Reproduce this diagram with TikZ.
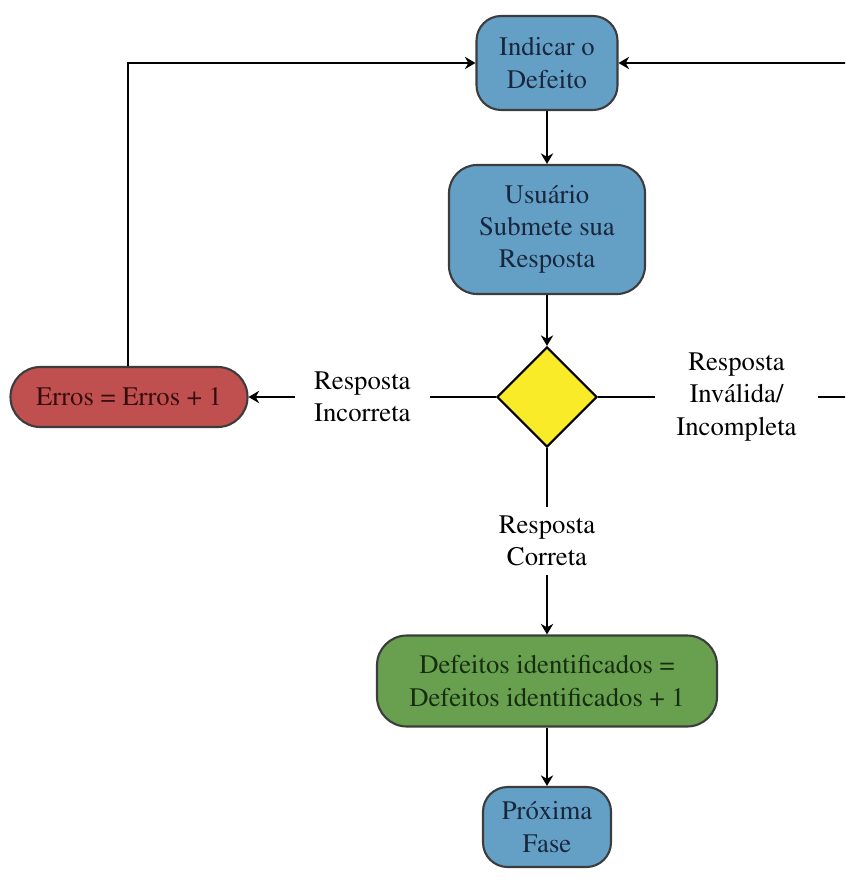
\documentclass[tikz,border=0pt]{standalone}
\usepackage[T1]{fontenc}
\usepackage{mathptmx}
\usetikzlibrary{arrows.meta,shapes.geometric}
\definecolor{boxblue}{RGB}{100,160,198}
\definecolor{boxred}{RGB}{192,80,80}
\definecolor{boxgreen}{RGB}{104,160,80}
\definecolor{boxyellow}{RGB}{250,235,40}
\definecolor{edgegray}{RGB}{60,60,60}
\definecolor{navytext}{RGB}{25,38,60}
\definecolor{redtext}{RGB}{55,12,12}
\definecolor{greentext}{RGB}{22,45,15}
\tikzset{
  x=0.02cm, y=-0.02cm,
  txt/.style={font=\fontsize{15.2}{18.4}\selectfont, align=center},
  procbox/.style={txt, draw=edgegray, line width=1.2pt, rectangle, inner sep=0pt},
  bluebox/.style={procbox, fill=boxblue, text=navytext},
  decision/.style={diamond, draw=black, line width=1.2pt, fill=boxyellow, inner sep=0pt,
                   minimum width=100*0.02cm, minimum height=100*0.02cm},
  conn/.style={line width=1.45pt, black},
  arr/.style={conn, -{Stealth[length=6pt,width=7pt]}},
  lbl/.style={txt, fill=white, text=black},
}
\begin{document}
\begin{tikzpicture}
\path[use as bounding box] (0,0) rectangle (845,881);
\clip (0,0) rectangle (845,881);

% process boxes
\node[bluebox, rounded corners=14pt, minimum width=141*0.02cm, minimum height=94*0.02cm]
  (ind) at (547,63) {Indicar o\\Defeito};
\node[bluebox, rounded corners=16pt, minimum width=196*0.02cm, minimum height=129*0.02cm]
  (sub) at (547,229.5) {Usuário\\Submete sua\\Resposta};
\node[decision] (dec) at (547,397) {};
\node[procbox, fill=boxred, text=redtext, rounded corners=17pt,
      minimum width=237*0.02cm, minimum height=60*0.02cm]
  (err) at (129,397) {Erros = Erros + 1};
\node[procbox, fill=boxgreen, text=greentext, rounded corners=17pt,
      minimum width=340*0.02cm, minimum height=91*0.02cm]
  (def) at (547,681) {Defeitos identificados =\\Defeitos identificados + 1};
\node[bluebox, rounded corners=14pt, minimum width=128*0.02cm, minimum height=80*0.02cm]
  (nxt) at (547,827) {Próxima\\Fase};

% loop-back turning points
\coordinate (lup) at (128,63);
\coordinate (rmid) at (870,397);
\coordinate (rup) at (870,63);

% main flow
\draw[arr] (ind) -- (sub);
\draw[arr] (sub) -- (dec);
\draw[arr] (dec.south) -- node[lbl, pos=0.5, inner xsep=2pt, inner ysep=5pt] {Resposta\\Correta} (def.north);
\draw[arr] (def) -- (nxt);

% incorrect answer branch and its loop back
\draw[arr] (dec.west) -- node[lbl, pos=0.54, inner xsep=11pt, inner ysep=2pt] {Resposta\\Incorreta} (err.east);
\draw[arr] (err.north -| lup) -- (lup) -- (ind.west);

% invalid / incomplete answer branch and its loop back
\draw[arr] (dec.east) -- node[lbl, pos=0.509, inner xsep=12pt, inner ysep=2pt] {Resposta\\Inválida/\\Incompleta} (rmid) -- (rup) -- (ind.east);
\end{tikzpicture}
\end{document}
